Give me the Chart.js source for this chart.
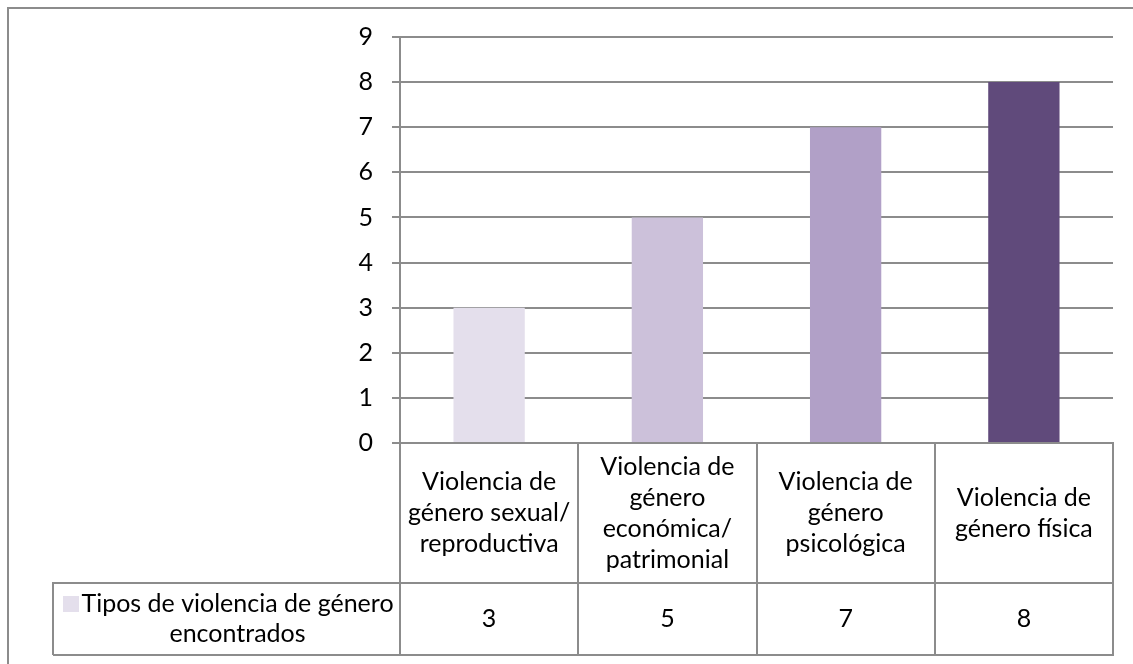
<!DOCTYPE html>
<html>
<head>
<meta charset="utf-8">
<script src="https://cdn.jsdelivr.net/npm/chart.js@4"></script>
<style>
  html, body { margin: 0; padding: 0; background: #fff; }
  #wrap { width: 1133px; height: 664px; }
</style>
</head>
<body>
<div id="wrap"><canvas id="violenceChart" width="1133" height="664"></canvas></div>
<script>
// Category names, already broken into the lines shown in the table
const categoryLines = [
  ['Violencia de', 'género sexual/', 'reproductiva'],
  ['Violencia de', 'género', 'económica/', 'patrimonial'],
  ['Violencia de', 'género', 'psicológica'],
  ['Violencia de', 'género física']
];
const seriesName = 'Tipos de violencia de género encontrados';
const seriesLines = ['Tipos de violencia de género', 'encontrados'];
const counts = [3, 5, 7, 8];
const barColors = ['#E4DFEC', '#CCC1DA', '#B1A0C7', '#604A7B'];
const yMin = 0;
const yMax = 9;
const yStep = 1;

const FONT = 'Lato, "Liberation Sans", sans-serif';
const FONT_SIZE = 25;
const LINE_COLOR = '#8c8c8c';
const LINE_H = 31;
const ROW_SPLIT = 583;     // line between category row and value row
const TABLE_BOTTOM = 655;
const LEGEND_LEFT = 53;

// Outer frame and the data table under the plot area
const dataTable = {
  id: 'dataTable',
  beforeDraw(chart) {
    const ctx = chart.ctx;
    ctx.save();
    ctx.strokeStyle = LINE_COLOR;
    ctx.lineWidth = 2;
    ctx.beginPath();
    ctx.moveTo(8, chart.height + 2);
    ctx.lineTo(8, 8);
    ctx.lineTo(chart.width + 2, 8);
    ctx.stroke();
    ctx.restore();
  },
  afterDraw(chart) {
    const ctx = chart.ctx;
    const area = chart.chartArea;
    const xs = chart.scales.x;
    const labels = chart.data.labels;
    const values = chart.data.datasets[0].data;
    const half = (area.right - area.left) / labels.length / 2;

    ctx.save();
    ctx.strokeStyle = LINE_COLOR;
    ctx.lineWidth = 2;
    ctx.beginPath();
    // column separators
    for (let i = 0; i <= labels.length; i++) {
      const bx = Math.round(i < labels.length ? xs.getPixelForValue(i) - half : area.right);
      ctx.moveTo(bx, area.bottom);
      ctx.lineTo(bx, TABLE_BOTTOM);
    }
    // row lines and legend cell
    ctx.moveTo(LEGEND_LEFT, ROW_SPLIT);
    ctx.lineTo(area.right, ROW_SPLIT);
    ctx.moveTo(LEGEND_LEFT, TABLE_BOTTOM);
    ctx.lineTo(area.right + 1, TABLE_BOTTOM);
    ctx.moveTo(LEGEND_LEFT, ROW_SPLIT - 1);
    ctx.lineTo(LEGEND_LEFT, TABLE_BOTTOM);
    ctx.stroke();

    ctx.fillStyle = '#000';
    ctx.font = FONT_SIZE + 'px ' + FONT;
    ctx.textAlign = 'center';
    ctx.textBaseline = 'middle';

    const catMid = (area.bottom + ROW_SPLIT) / 2;
    const valMid = (ROW_SPLIT + TABLE_BOTTOM) / 2;
    labels.forEach((lines, i) => {
      const cx = xs.getPixelForValue(i);
      const top = catMid - (lines.length - 1) * LINE_H / 2;
      lines.forEach((t, k) => ctx.fillText(t, cx, top + k * LINE_H));
      ctx.fillText(String(values[i]), cx, valMid);
    });

    // legend key and series name
    const keyX = LEGEND_LEFT + 10;
    const textMid = (keyX + 20 + area.left - 8) / 2;
    const top = valMid - (seriesLines.length - 1) * (LINE_H - 1) / 2;
    ctx.fillStyle = barColors[0];
    ctx.fillRect(keyX, top - 8, 16, 16);
    ctx.fillStyle = '#000';
    seriesLines.forEach((t, k) => ctx.fillText(t, textMid, top + k * (LINE_H - 1)));
    ctx.restore();
  }
};

const ctx = document.getElementById('violenceChart').getContext('2d');
new Chart(ctx, {
  type: 'bar',
  data: {
    labels: categoryLines,
    datasets: [{
      label: seriesName,
      data: counts,
      backgroundColor: barColors,
      borderWidth: 0,
      categoryPercentage: 1,
      barPercentage: 0.4
    }]
  },
  options: {
    responsive: false,
    animation: false,
    layout: { padding: { left: 340, top: 37, right: 20, bottom: 213 } },
    plugins: {
      legend: { display: false },
      tooltip: { enabled: false }
    },
    scales: {
      x: {
        ticks: { display: false },
        grid: { display: false },
        border: { display: true, color: LINE_COLOR, width: 2 }
      },
      y: {
        min: yMin,
        max: yMax,
        ticks: {
          stepSize: yStep,
          padding: 19,
          color: '#000',
          font: { family: FONT, size: FONT_SIZE }
        },
        grid: { color: LINE_COLOR, lineWidth: 2, tickLength: 8 },
        border: { color: LINE_COLOR, width: 2 },
        afterFit(scale) { scale.width = 60; }
      }
    }
  },
  plugins: [dataTable]
});
</script>
</body>
</html>
